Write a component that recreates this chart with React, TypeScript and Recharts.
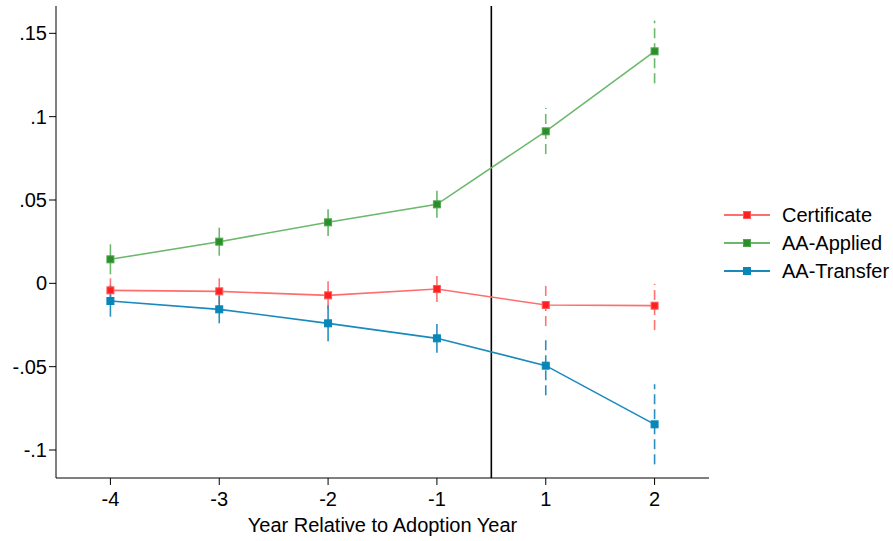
import React from 'react';
import {
  ComposedChart,
  Line,
  Scatter,
  ErrorBar,
  XAxis,
  YAxis,
  ReferenceLine,
} from 'recharts';

// Event-time labels (year relative to adoption)
const periods = ['-4', '-3', '-2', '-1', '1', '2'];

// Point estimates and confidence bounds per outcome
const certificate = [-0.0042, -0.0048, -0.0072, -0.0034, -0.013, -0.0134];
const certificateLow = [-0.0114, -0.0126, -0.0156, -0.0112, -0.0256, -0.028];
const certificateHigh = [0.003, 0.003, 0.0012, 0.0044, -0.0004, -0.0004];

const aaApplied = [0.0144, 0.025, 0.0366, 0.0474, 0.0912, 0.1392];
const aaAppliedLow = [0.0054, 0.0166, 0.0284, 0.0394, 0.0776, 0.12];
const aaAppliedHigh = [0.0234, 0.0334, 0.0444, 0.0556, 0.1052, 0.1576];

const aaTransfer = [-0.0106, -0.0156, -0.024, -0.033, -0.0494, -0.0846];
const aaTransferLow = [-0.02, -0.024, -0.0348, -0.0416, -0.0672, -0.1086];
const aaTransferHigh = [-0.0012, -0.0072, -0.0132, -0.0244, -0.0316, -0.0606];

const yTicks = [-0.1, -0.05, 0, 0.05, 0.1, 0.15];
const adoptionIndex = periods.indexOf('1') - 0.5;

const rows = periods.map((p, i) => ({
  x: i,
  period: p,
  cert: certificate[i],
  certErr: [certificate[i] - certificateLow[i], certificateHigh[i] - certificate[i]],
  applied: aaApplied[i],
  appliedErr: [aaApplied[i] - aaAppliedLow[i], aaAppliedHigh[i] - aaApplied[i]],
  transfer: aaTransfer[i],
  transferErr: [aaTransfer[i] - aaTransferLow[i], aaTransferHigh[i] - aaTransfer[i]],
}));

const preRows = rows.filter((r) => r.x < adoptionIndex);
const postRows = rows.filter((r) => r.x > adoptionIndex);

const series = [
  { key: 'cert', err: 'certErr', name: 'Certificate', line: '#ff6e6e', marker: '#ff1f1f', edge: '#ff5a5a', bar: '#ff7373' },
  { key: 'applied', err: 'appliedErr', name: 'AA-Applied', line: '#6cb86c', marker: '#2b8e2b', edge: '#4ea54e', bar: '#6cb86c' },
  { key: 'transfer', err: 'transferErr', name: 'AA-Transfer', line: '#1a8abd', marker: '#0786b8', edge: '#0786b8', bar: '#2a8fc0' },
];

const FONT = '"Liberation Sans", Arial, Helvetica, sans-serif';
const FONT_SIZE = 20;

const squareShape = (fill: string, edge: string) => (props: any) => {
  const { cx, cy } = props;
  if (cx == null || cy == null) return <g />;
  const s = 7;
  return (
    <rect x={cx - s / 2} y={cy - s / 2} width={s} height={s} fill={fill} stroke={edge} strokeWidth={1} />
  );
};

const fmtY = (v: number) => (v === 0 ? '0' : String(v).replace('0.', '.'));

const LegendBox = () => (
  <div
    style={{
      position: 'absolute',
      left: 723,
      top: 201,
      width: 170,
      fontFamily: FONT,
      fontSize: FONT_SIZE,
      color: '#000',
    }}
  >
    {series.map((s) => (
      <div key={s.key} style={{ display: 'flex', alignItems: 'center', height: 28 }}>
        <svg width={59} height={12} style={{ flex: 'none' }}>
          <line x1={1} y1={6} x2={47} y2={6} stroke={s.line} strokeWidth={2} />
          <rect x={20.5} y={2.5} width={7} height={7} fill={s.marker} stroke={s.edge} />
        </svg>
        <span>{s.name}</span>
      </div>
    ))}
  </div>
);

export default function App() {
  return (
    <div style={{ position: 'absolute', left: 0, top: 0, width: 893, height: 541, background: '#fff' }}>
      <ComposedChart
        width={893}
        height={541}
        data={rows}
        margin={{ top: 6, right: 184, bottom: 0, left: 0 }}
      >
        <XAxis
          dataKey="x"
          type="number"
          domain={[-0.5, 5.5]}
          ticks={rows.map((r) => r.x)}
          tickFormatter={(v: number) => periods[v]}
          allowDataOverflow
          height={63}
          tickSize={7}
          tickMargin={7}
          stroke="#000"
          tick={{ fill: '#000', fontSize: FONT_SIZE, fontFamily: FONT }}
          label={{
            value: 'Year Relative to Adoption Year',
            position: 'insideBottom',
            offset: 9,
            fill: '#000',
            fontSize: FONT_SIZE,
            fontFamily: FONT,
          }}
        />
        <YAxis
          type="number"
          domain={[-0.1168, 0.1664]}
          ticks={yTicks}
          tickFormatter={fmtY}
          allowDataOverflow
          width={56}
          tickSize={7}
          tickMargin={2}
          stroke="#000"
          tick={{ fill: '#000', fontSize: FONT_SIZE, fontFamily: FONT }}
        />
        <ReferenceLine x={adoptionIndex} stroke="#000" strokeWidth={1.6} />
        {series.map((s) => (
          <Line
            key={`line-${s.key}`}
            dataKey={s.key}
            stroke={s.line}
            strokeWidth={1.6}
            dot={false}
            activeDot={false}
            isAnimationActive={false}
            legendType="none"
          />
        ))}
        {series.map((s) => (
          <Scatter
            key={`pre-${s.key}`}
            data={preRows}
            dataKey={s.key}
            shape={squareShape(s.marker, s.edge)}
            isAnimationActive={false}
            legendType="none"
          >
            <ErrorBar
              dataKey={s.err}
              direction="y"
              width={0}
              stroke={s.bar}
              strokeWidth={1.6}
              isAnimationActive={false}
            />
          </Scatter>
        ))}
        {series.map((s) => (
          <Scatter
            key={`post-${s.key}`}
            data={postRows}
            dataKey={s.key}
            shape={squareShape(s.marker, s.edge)}
            isAnimationActive={false}
            legendType="none"
          >
            <ErrorBar
              dataKey={s.err}
              direction="y"
              width={0}
              stroke={s.bar}
              strokeWidth={1.6}
              strokeDasharray="10 5"
              isAnimationActive={false}
            />
          </Scatter>
        ))}
      </ComposedChart>
      <LegendBox />
    </div>
  );
}
